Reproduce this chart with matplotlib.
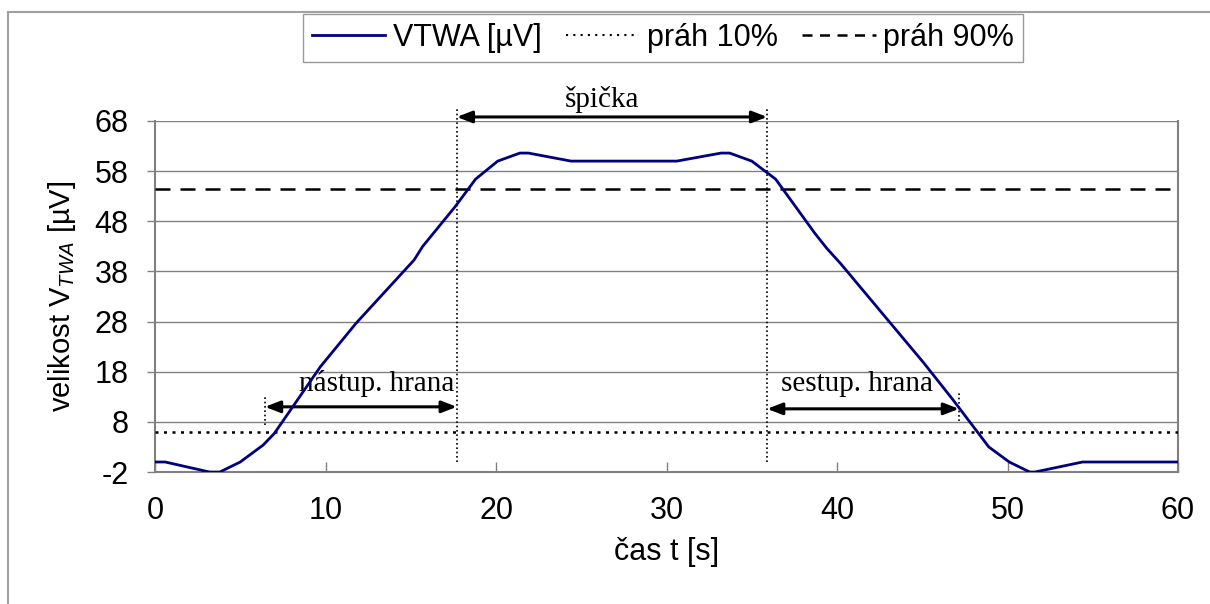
import matplotlib.pyplot as plt
from matplotlib.lines import Line2D

# VTWA curve
cas = [0, 0.6, 3.2, 3.8, 5.0, 6.35, 7.0, 9.7, 11.8, 15.2, 15.7, 17.6, 18.8,
       20.1, 21.4, 21.9, 24.4, 30.6, 33.2, 33.7, 35.0, 36.4, 38.7, 39.4,
       40.2, 45.1, 46.8, 48.9, 50.1, 51.3, 51.6, 54.4, 60]
vtwa = [0, 0, -2, -2, 0, 3.4, 5.7, 19.0, 27.7, 40.3, 43.0, 50.9, 56.4,
        60.0, 61.6, 61.6, 60.0, 60.0, 61.6, 61.6, 60.0, 56.4, 45.6, 42.6,
        39.6, 19.7, 12.4, 3.0, 0, -2, -2, 0, 0]

prah10 = 6.04
prah90 = 54.36

# edge / peak boundaries [s]
t_nastup = 6.45
t_spicka_od = 17.7
t_spicka_do = 35.9
t_sestup = 47.15

yticks = [-2, 8, 18, 28, 38, 48, 58, 68]
xticks = [0, 10, 20, 30, 40, 50, 60]

plt.rcParams['font.family'] = ['Liberation Sans', 'DejaVu Sans']
plt.rcParams['axes.unicode_minus'] = False
plt.rcParams['mathtext.fontset'] = 'custom'
plt.rcParams['mathtext.rm'] = 'Liberation Sans'
plt.rcParams['mathtext.it'] = 'Liberation Sans:italic'

fig = plt.figure(figsize=(12.1, 6.04), dpi=100)
ax = fig.add_axes([0.1281, 0.2185, 0.8455, 0.5812])

grey = '#808080'
for y in yticks:
    ax.axhline(y, color=grey, lw=1, zorder=1)

ln, = ax.plot(cas, vtwa, color='#000080', lw=2, zorder=4)
ax.axhline(prah10, color='black', lw=1.8, ls=(0, (1.2, 2.2)), zorder=3)
ax.axhline(prah90, color='black', lw=1.8, ls=(0, (6, 4)), zorder=3)

ax.set_xlim(0, 60)
ax.set_ylim(-2, 68)
ax.set_xticks(xticks)
ax.set_yticks(yticks)
ax.tick_params(axis='x', direction='in', length=7, width=1, color=grey,
               labelsize=22, pad=17)
ax.tick_params(axis='y', direction='out', length=6, width=1, color=grey,
               labelsize=22, pad=13)
for s in ['left', 'right', 'bottom']:
    ax.spines[s].set_color(grey)
    ax.spines[s].set_linewidth(1.5)
ax.spines['top'].set_visible(False)

ax.set_xlabel('čas t [s]', fontsize=22, labelpad=8)
ax.set_ylabel(r'velikost $\mathrm{V}_{TWA}$ [µV]', fontsize=21, labelpad=12)

# boundary markers
dot = (0, (1, 1.6))
ax.plot([t_spicka_od, t_spicka_od], [0, 70.6], color='black', lw=1.2, ls=dot, clip_on=False)
ax.plot([t_spicka_do, t_spicka_do], [0, 70.6], color='black', lw=1.2, ls=dot, clip_on=False)
ax.plot([t_nastup, t_nastup], [7.4, 13.4], color='black', lw=1.2, ls=dot)
ax.plot([t_sestup, t_sestup], [8.2, 13.8], color='black', lw=1.2, ls=dot)

arr = dict(arrowstyle='<|-|>,head_length=0.9,head_width=0.35', color='black',
           lw=2.2, shrinkA=0, shrinkB=0)
ax.annotate('', xy=(t_spicka_od, 68.8), xytext=(t_spicka_do, 68.8),
            arrowprops=arr, annotation_clip=False)
ax.annotate('', xy=(t_nastup, 11.0), xytext=(t_spicka_od, 11.0), arrowprops=arr)
ax.annotate('', xy=(t_spicka_do, 10.6), xytext=(t_sestup, 10.6), arrowprops=arr)

serif = ['Liberation Serif', 'DejaVu Serif']
ax.text(26.2, 72.2, 'špička', family=serif, fontsize=21, ha='center', va='center')
ax.text(13.0, 15.6, 'nástup. hrana', family=serif, fontsize=21, ha='center', va='center')
ax.text(41.2, 15.6, 'sestup. hrana', family=serif, fontsize=21, ha='center', va='center')

h10 = Line2D([], [], color='black', lw=1.5, ls=(0, (1, 2.5)))
h90 = Line2D([], [], color='black', lw=1.8, ls=(0, (4, 3)))
leg = fig.legend([ln, h10, h90], ['VTWA [µV]', 'práh 10%', 'práh 90%'],
                 loc='center', bbox_to_anchor=(0.548, 0.937), ncol=3,
                 fontsize=22, frameon=True, fancybox=False, handlelength=2.4,
                 handletextpad=0.25, columnspacing=0.8, borderpad=0.3,
                 borderaxespad=0)
leg.get_frame().set_edgecolor(grey)
leg.get_frame().set_linewidth(1)

# outer chart border (left and top visible)
fig.add_artist(Line2D([8 / 1210, 8 / 1210], [0, 1 - 12 / 604], color='#a0a0a0', lw=1.5))
fig.add_artist(Line2D([8 / 1210, 1], [1 - 12 / 604, 1 - 12 / 604], color='#a0a0a0', lw=1.5))

fig.savefig('out.png', dpi=100)
